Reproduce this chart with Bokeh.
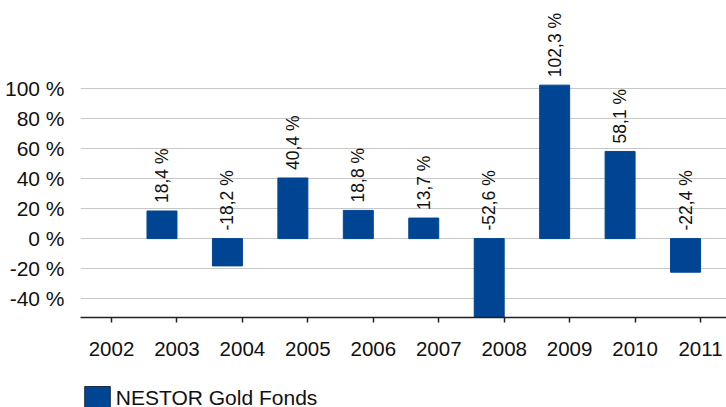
from bokeh.plotting import figure
from bokeh.layouts import column
from bokeh.models import ColumnDataSource, FixedTicker, Legend, LegendItem, Range1d
from bokeh.core.properties import value
from bokeh.embed import file_html
from bokeh.resources import INLINE

# ---- data ----
year_ticks = [2002, 2003, 2004, 2005, 2006, 2007, 2008, 2009, 2010, 2011]
year_labels = ["2002", "2003", "2004", "2005", "2006", "2007", "2008", "2009", "2010", "2011"]
bar_years = [2003, 2004, 2005, 2006, 2007, 2008, 2009, 2010, 2011]
returns = [18.4, -18.2, 40.4, 18.8, 13.7, -52.6, 102.3, 58.1, -22.4]
y_ticks = [-40, -20, 0, 20, 40, 60, 80, 100]
y_labels = ["-40 %", "-20 %", "0 %", "20 %", "40 %", "60 %", "80 %", "100 %"]
series_name = "NESTOR Gold Fonds"

FONT = "Liberation Sans"
BLUE = "#004593"
BAR_W = 0.458

src = ColumnDataSource(dict(
    x=[y - BAR_W / 2 for y in bar_years],
    top=returns,
    ly=[max(v, 0) for v in returns],
    lbl=[("%.1f" % v).replace(".", ",") + " %" for v in returns],
))

p = figure(width=726, height=372, output_backend="svg", toolbar_location=None,
           x_range=Range1d(2001.526, 2011.397), y_range=Range1d(-52.6, 158.73),
           min_border_left=80, min_border_right=0, min_border_top=0, min_border_bottom=55)
p.outline_line_color = None
p.background_fill_color = "white"
p.border_fill_color = "white"

p.vbar(x="x", top="top", bottom=0, width=BAR_W, source=src, fill_color=BLUE, line_color=BLUE)

p.text(x="x", y="ly", text="lbl", source=src, angle=1.5707963, text_align="left",
       text_baseline="middle", y_offset=-8, text_font=value(FONT), text_font_size="17.5px",
       text_color="#111111")

# axes
p.xaxis.ticker = FixedTicker(ticks=year_ticks)
p.xaxis.major_label_overrides = {t: l for t, l in zip(year_ticks, year_labels)}
p.xaxis.axis_line_color = "#222222"
p.xaxis.axis_line_width = 1.5
p.xaxis.major_tick_line_color = "#222222"
p.xaxis.major_tick_line_width = 1.5
p.xaxis.major_tick_out = 5
p.xaxis.major_tick_in = 0
p.xaxis.minor_tick_line_color = None
p.xaxis.major_label_standoff = 19
p.xaxis.major_label_text_font = FONT
p.xaxis.major_label_text_font_size = "20.5px"
p.xaxis.major_label_text_color = "#111111"

p.yaxis.ticker = FixedTicker(ticks=y_ticks)
p.yaxis.major_label_overrides = {t: l for t, l in zip(y_ticks, y_labels)}
p.yaxis.axis_line_color = None
p.yaxis.major_tick_line_color = None
p.yaxis.minor_tick_line_color = None
p.yaxis.major_tick_out = 0
p.yaxis.major_tick_in = 0
p.yaxis.major_label_standoff = 16
p.yaxis.major_label_text_font = FONT
p.yaxis.major_label_text_font_size = "21px"
p.yaxis.major_label_text_color = "#111111"

p.xgrid.grid_line_color = None
p.ygrid.ticker = FixedTicker(ticks=y_ticks)
p.ygrid.grid_line_color = "#c8c8c8"
p.ygrid.grid_line_width = 1

# ---- legend strip ----
lg = figure(width=726, height=35, output_backend="svg", toolbar_location=None,
            x_range=Range1d(0, 1), y_range=Range1d(0, 1),
            x_axis_location=None, y_axis_location=None,
            min_border_left=0, min_border_right=0, min_border_top=0, min_border_bottom=0)
lg.outline_line_color = None
lg.grid.visible = False
proxy = lg.vbar(x="x", top="top", width=BAR_W, source=src, fill_color=BLUE,
                line_color="#1c2c48", line_width=1, visible=False)
legend = Legend(items=[LegendItem(label=series_name, renderers=[proxy])],
                location=(0.8, -5.5), orientation="horizontal",
                padding=0, spacing=0, margin=0, border_line_color=None,
                background_fill_alpha=0, glyph_width=32, glyph_height=30, label_standoff=3,
                label_text_font=FONT, label_text_font_size="21px", label_text_color="#111111")
lg.add_layout(legend, "center")

layout = column(p, lg, spacing=0)
open("out.html", "w").write(file_html(layout, INLINE))
